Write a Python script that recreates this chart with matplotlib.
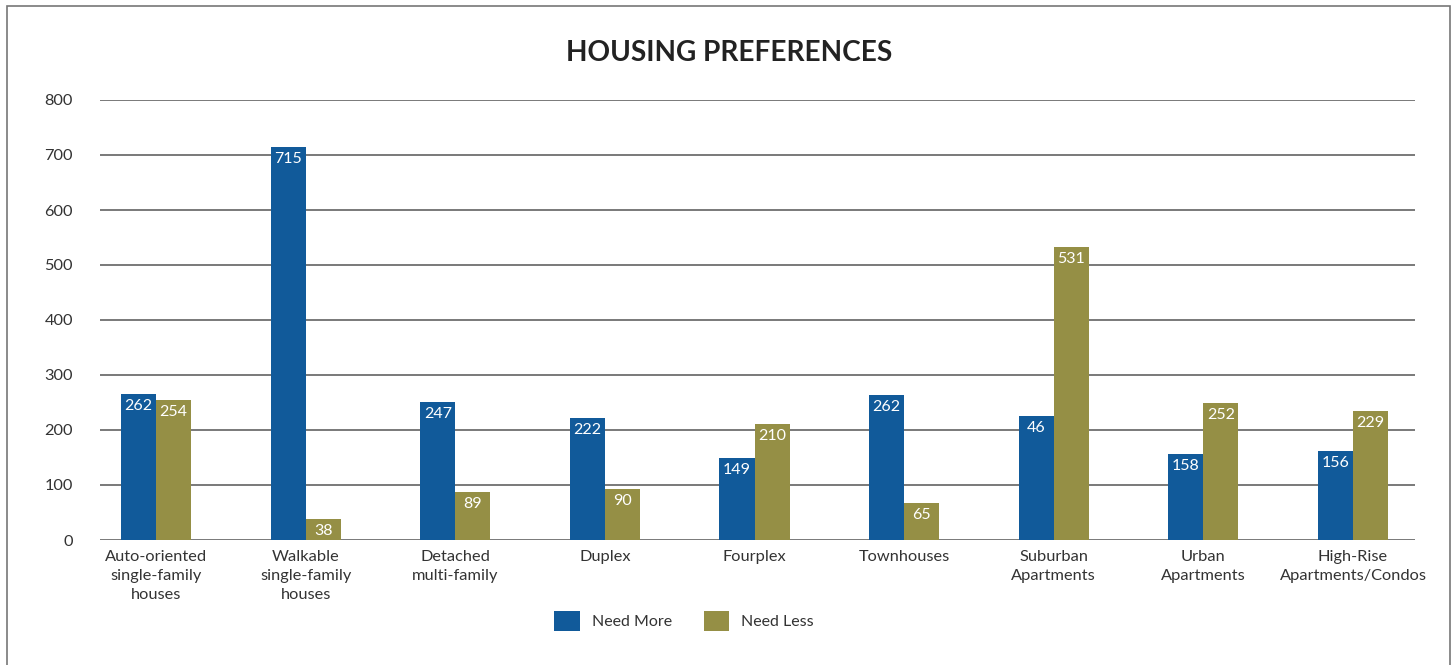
import matplotlib
matplotlib.use("Agg")
import matplotlib.pyplot as plt
from matplotlib.patches import Rectangle
import numpy as np

categories = [
    "Auto-oriented\nsingle-family\nhouses",
    "Walkable\nsingle-family\nhouses",
    "Detached\nmulti-family",
    "Duplex",
    "Fourplex",
    "Townhouses",
    "Suburban\nApartments",
    "Urban\nApartments",
    "High-Rise\nApartments/Condos",
]
need_more = [265, 715, 251, 222, 149, 264, 225, 156, 162]
need_less = [254, 38, 87, 93, 211, 67, 533, 249, 235]
need_more_labels = ["262", "715", "247", "222", "149", "262", "46", "158", "156"]
need_less_labels = ["254", "38", "89", "90", "210", "65", "531", "252", "229"]
yticks = [0, 100, 200, 300, 400, 500, 600, 700, 800]

BLUE = "#115A9A"
OLIVE = "#958F45"
TEXT = "#333333"
GRID = "#555555"

plt.rcParams["font.family"] = ["Lato", "DejaVu Sans"]

fig = plt.figure(figsize=(14.53, 6.65), dpi=100)
ax = fig.add_axes([100 / 1453, 1 - 540 / 665, 1315 / 1453, 440 / 665])

x = np.arange(len(categories))
w = 0.234
b1 = ax.bar(x - w / 2, need_more, w, color=BLUE, label="Need More", zorder=3)
b2 = ax.bar(x + w / 2, need_less, w, color=OLIVE, label="Need Less", zorder=3)

for bars, labs in ((b1, need_more_labels), (b2, need_less_labels)):
    for rect, lab in zip(bars, labs):
        ax.annotate(lab, (rect.get_x() + rect.get_width() / 2, rect.get_height()),
                    xytext=(0, -3.5), textcoords="offset points",
                    ha="center", va="top", color="white", fontsize=11.5, zorder=4)

ax.set_ylim(0, 800)
ax.set_xlim(-0.374, 8.414)
ax.set_yticks(yticks)
ax.set_yticklabels([str(v) for v in yticks])
ax.set_xticks(x)
ax.set_xticklabels(categories, linespacing=1.45)
ax.tick_params(axis="y", length=0, pad=19.5, labelsize=11.8, labelcolor=TEXT)
ax.tick_params(axis="x", length=0, pad=7.5, labelsize=11.8, labelcolor=TEXT)
for lab in ax.get_yticklabels():
    lab.set_ha("right")
ax.yaxis.grid(True, color=GRID, linewidth=1.1, zorder=0)
ax.set_axisbelow(True)
for s in ax.spines.values():
    s.set_visible(False)

fig.text(729 / 1453, 1 - 53 / 665, "HOUSING PREFERENCES", ha="center", va="center",
         fontsize=20.2, fontweight="bold", color="#222222")

leg = fig.legend(handles=[b1, b2], loc="center", bbox_to_anchor=(684 / 1453, 1 - 621 / 665),
                 ncol=2, frameon=False, fontsize=11.5, handlelength=1.6, handleheight=1.6,
                 handletextpad=0.75, columnspacing=2.0, labelcolor=TEXT)

fig.patches.append(Rectangle((7 / 1453, -0.1), 1443 / 1453, 1.1 - 6 / 665,
                             transform=fig.transFigure, fill=False,
                             edgecolor="#777777", linewidth=1.2))

fig.savefig("out.png", dpi=100)
